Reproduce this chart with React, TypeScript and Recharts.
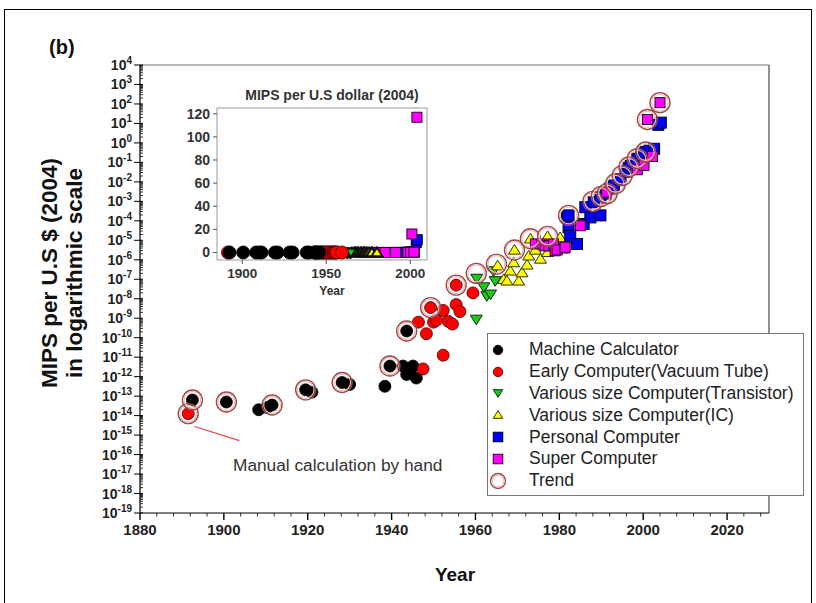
import { Legend, ReferenceLine, Scatter, ScatterChart, XAxis, YAxis } from "recharts";

type P = [number, number]; // [year, MIPS per US$ (2004)]

const machineCalculator: P[] = [
  [1892.5, 6.3e-14], [1900.6, 5e-14], [1908.3, 2e-14], [1911.5, 3.5e-14], [1910.3, 2.6e-14],
  [1919.5, 2.1e-13], [1921, 1.6e-13], [1928.2, 5e-13], [1930, 4e-13], [1938.4, 3.2e-13],
  [1939.6, 3.5e-12], [1942.7, 3.5e-12], [1943.6, 1.3e-12], [1944.4, 1.6e-12], [1945.1, 3.5e-12],
  [1945.9, 8.5e-13], [1943.6, 2.2e-10],
];
const earlyComputer: P[] = [
  [1891.5, 1.26e-14], [1946.4, 6.3e-10], [1947.5, 2.5e-12], [1948.3, 1.6e-10], [1949.3, 3.5e-9],
  [1950, 6.3e-10], [1950.7, 8e-10], [1952.3, 2.5e-9], [1952.3, 1.26e-11], [1953.5, 7e-10],
  [1954.5, 5e-10], [1955.4, 5e-9], [1955.4, 5e-8], [1956.3, 2.2e-9], [1959.4, 2e-8],
];
const transistor: P[] = [
  [1960.2, 8.7e-10], [1960.3, 1.1e-7], [1962, 4e-8], [1962.7, 1.4e-8], [1963.6, 1.7e-8],
  [1964.3, 2.7e-7], [1964.7, 8.3e-8],
];
const ic: P[] = [
  [1965.3, 5e-7], [1966.7, 1e-7], [1967.5, 8.3e-8], [1968.3, 2.7e-7], [1969.1, 7.2e-7],
  [1969.3, 3.2e-6], [1970.3, 8.3e-8], [1971.1, 2.2e-7], [1972.3, 5.5e-7], [1972.7, 1.6e-6],
  [1973.1, 1.2e-5], [1974.3, 3.2e-6], [1975.5, 1.1e-6], [1977.2, 1.6e-5], [1977.2, 2.4e-6],
  [1980.2, 1.4e-5],
];
const personal: P[] = [
  [1981.8, 1.6e-4], [1982.2, 1.9e-4], [1982.2, 4.7e-5], [1982.6, 1.7e-5], [1984.2, 6.5e-6],
  [1985.8, 6.9e-5], [1986.2, 5e-4], [1987.4, 1.5e-4], [1988.2, 8.9e-4], [1989.8, 1.6e-3],
  [1989.8, 1.9e-4], [1991, 2.5e-3], [1992, 4.5e-3], [1993, 6.5e-3], [1994.6, 1.4e-2],
  [1995.8, 3.2e-2], [1996.5, 5e-2], [1997, 7e-2], [1998.6, 0.155], [1999.5, 0.22],
  [2000.2, 0.34], [2001.5, 0.4], [2002.6, 0.5], [2003.6, 8.5], [2004.2, 11],
];
const superComputer: P[] = [
  [1974.3, 6.5e-6], [1975.9, 6.5e-6], [1976.6, 5.2e-6], [1977.5, 5.2e-6], [1978.6, 6.5e-6],
  [1979, 2.9e-6], [1979.5, 3.2e-6], [1981.2, 4e-6], [1981.4, 4.4e-6], [1985, 5.6e-5],
  [1991.3, 3e-3], [1998.6, 4.2e-2], [2000.2, 7e-2], [2002.2, 0.2], [2001, 16], [2004, 117],
];
const trend: P[] = [
  [1891.5, 1.26e-14], [1892.5, 6.3e-14], [1900.6, 5e-14], [1911.5, 3.5e-14], [1919.5, 2.1e-13],
  [1928.2, 5e-13], [1939.6, 3.5e-12], [1943.6, 2.2e-10], [1949.3, 3.5e-9], [1955.4, 5e-8],
  [1960.2, 2e-7], [1965, 6e-7], [1969.3, 3.2e-6], [1973.1, 1.2e-5], [1977.2, 1.6e-5],
  [1982.2, 1.9e-4], [1988, 1e-3], [1990, 1.8e-3], [1991.4, 2.5e-3], [1993.4, 8e-3],
  [1995, 2.1e-2], [1996.6, 5.8e-2], [1998.6, 0.155], [2000.6, 0.34], [2001, 16], [2004, 117],
];

const yMajorExp = [4, 3, 2, 1, 0, -1, -2, -3, -4, -5, -6, -7, -8, -9, -10, -11, -12, -13, -14, -15, -16, -17, -18, -19];
const insetYTicks = [0, 20, 40, 60, 80, 100, 120];
const insetXTicks = [1900, 1950, 2000];

// minor tick positions
const yTicks: number[] = [];
yMajorExp.forEach((e) => {
  yTicks.push(10 ** e);
  if (e > -19) for (let m = 2; m <= 9; m++) yTicks.push(m * 10 ** (e - 1));
});
const xTicks: number[] = [];
for (let y = 1880; y <= 2028; y += 4) xTicks.push(y);

type Kind = "circle" | "down" | "up" | "square" | "ring";
type Series = { name: string; data: P[]; kind: Kind; fill: string; stroke: string; size: number; inset: boolean };

const SERIES: Series[] = [
  { name: "Machine Calculator", data: machineCalculator, kind: "circle", fill: "#000000", stroke: "#000000", size: 12, inset: true },
  { name: "Early Computer(Vacuum Tube)", data: earlyComputer, kind: "circle", fill: "#ff0000", stroke: "#3a0000", size: 12, inset: true },
  { name: "Various size Computer(Transistor)", data: transistor, kind: "down", fill: "#1ec81e", stroke: "#063006", size: 12, inset: true },
  { name: "Various size Computer(IC)", data: ic, kind: "up", fill: "#ffff00", stroke: "#333300", size: 12, inset: true },
  { name: "Personal Computer", data: personal, kind: "square", fill: "#0000ff", stroke: "#000022", size: 11, inset: true },
  { name: "Super Computer", data: superComputer, kind: "square", fill: "#ff00ff", stroke: "#300030", size: 10, inset: true },
  { name: "Trend", data: trend, kind: "ring", fill: "none", stroke: "#a04848", size: 20, inset: false },
];

// inset draw order: PCs first, then super computers over them, calculators on top
const INSET_ORDER = [
  "Personal Computer",
  "Super Computer",
  "Various size Computer(IC)",
  "Various size Computer(Transistor)",
  "Early Computer(Vacuum Tube)",
  "Machine Calculator",
];

const rows = (pts: P[]) => pts.map(([year, mips]) => ({ year, mips }));

const FONT = "'Liberation Sans', Arial, sans-serif";

function Marker({ cx, cy, kind, fill, stroke, size, sw = 1 }: any) {
  if (cx == null || cy == null) return null;
  const h = size / 2;
  if (kind === "circle") return <circle cx={cx} cy={cy} r={h} fill={fill} stroke={stroke} strokeWidth={0.8 * sw} />;
  if (kind === "square")
    return <rect x={cx - h} y={cy - h} width={size} height={size} fill={fill} stroke={stroke} strokeWidth={sw} />;
  if (kind === "down")
    return (
      <polygon
        points={`${cx - h},${cy - h * 0.7} ${cx + h},${cy - h * 0.7} ${cx},${cy + h * 0.9}`}
        fill={fill}
        stroke={stroke}
        strokeWidth={sw}
      />
    );
  if (kind === "up")
    return (
      <polygon
        points={`${cx - h},${cy + h * 0.7} ${cx + h},${cy + h * 0.7} ${cx},${cy - h * 0.9}`}
        fill={fill}
        stroke={stroke}
        strokeWidth={sw}
      />
    );
  return (
    <g>
      <circle cx={cx} cy={cy} r={h} fill="none" stroke={stroke} strokeWidth={1.4} />
      <circle cx={cx} cy={cy} r={h - 1.6} fill="none" stroke="#ecbcbc" strokeWidth={1.2} />
    </g>
  );
}

function YTick({ x, y, payload }: any) {
  const v = payload.value as number;
  const lg = Math.log10(v);
  const e = Math.round(lg);
  const major = Math.abs(lg - e) < 1e-6;
  if (!major) return <line x1={x} x2={x + 3} y1={y} y2={y} stroke="#000" strokeWidth={0.8} />;
  return (
    <g>
      <line x1={x - 6} x2={x + 3} y1={y} y2={y} stroke="#000" strokeWidth={1} />
      <text x={x - 8} y={y + 5} textAnchor="end" fontFamily={FONT} fontWeight="bold" fontSize={14} fill="#222">
        <tspan>10</tspan>
        <tspan dy={-6} fontSize={10}>
          {e}
        </tspan>
      </text>
    </g>
  );
}

function XTick({ x, y, payload }: any) {
  const v = payload.value as number;
  const major = v % 20 === 0;
  return (
    <g>
      <line x1={x} x2={x} y1={y} y2={y + (major ? 7 : 3.5)} stroke="#000" strokeWidth={major ? 1.4 : 0.8} />
      {major && (
        <text x={x} y={y + 22} textAnchor="middle" fontFamily={FONT} fontWeight="bold" fontSize={15} fill="#222">
          {v}
        </text>
      )}
    </g>
  );
}

function InsetYTick({ x, y, payload }: any) {
  return (
    <g>
      <line x1={x - 4} x2={x} y1={y} y2={y} stroke="#555" />
      <text x={x - 7} y={y + 5} textAnchor="end" fontFamily={FONT} fontWeight="bold" fontSize={14} fill="#333">
        {payload.value}
      </text>
    </g>
  );
}

function InsetXTick({ x, y, payload }: any) {
  return (
    <g>
      <line x1={x} x2={x} y1={y} y2={y + 4} stroke="#555" />
      <text x={x} y={y + 18} textAnchor="middle" fontFamily={FONT} fontWeight="bold" fontSize={13.5} fill="#333">
        {payload.value}
      </text>
    </g>
  );
}

function LegendBox() {
  return (
    <div
      style={{
        width: 317,
        height: 163,
        boxSizing: "border-box",
        border: "1px solid #777",
        background: "#fff",
        paddingTop: 5,
        fontFamily: FONT,
        fontSize: 17.5,
        color: "#222",
      }}
    >
      {SERIES.map((s) => (
        <div key={s.name} style={{ height: 21.8, display: "flex", alignItems: "center" }}>
          <svg width={20} height={20} style={{ marginLeft: 0, marginRight: 21, flex: "none" }}>
            <Marker cx={10} cy={10} kind={s.kind} fill={s.fill} stroke={s.stroke} size={s.kind === "ring" ? 15 : 9.5} />
          </svg>
          <span style={{ whiteSpace: "nowrap" }}>{s.name}</span>
        </div>
      ))}
    </div>
  );
}

export default function App() {
  const insetSeries = INSET_ORDER.map((n) => SERIES.find((s) => s.name === n)!).filter((s) => s.inset);
  return (
    <div style={{ position: "fixed", left: 0, top: 0, width: 816, height: 603, background: "#fff", overflow: "hidden" }}>
      <div style={{ position: "absolute", left: 4, top: 9, width: 806, height: 620, border: "1px solid #000" }} />
      <div style={{ position: "absolute", left: 0, top: 0 }}>
        <ScatterChart width={816} height={603} margin={{ top: 65, right: 47, left: 80, bottom: 50 }}>
          <XAxis
            type="number"
            dataKey="year"
            domain={[1880, 2030]}
            ticks={xTicks}
            interval={0}
            tickSize={0}
            tickMargin={0}
            tickLine={false}
            height={40}
            tick={<XTick />}
            axisLine={{ stroke: "#000", strokeWidth: 1.2 }}
            allowDataOverflow
          />
          <YAxis
            type="number"
            dataKey="mips"
            scale="log"
            domain={[1e-19, 1e4]}
            ticks={yTicks}
            interval={0}
            tickSize={0}
            tickMargin={0}
            tickLine={false}
            width={60}
            tick={<YTick />}
            axisLine={{ stroke: "#000", strokeWidth: 1.2 }}
            allowDataOverflow
          />
          <ReferenceLine y={1e4} stroke="#777" strokeWidth={1.2} />
          <ReferenceLine x={2030} stroke="#444" strokeWidth={1.2} />
          <ReferenceLine
            segment={[
              { x: 1893, y: 2.75e-15 },
              { x: 1903.7, y: 5.2e-16 },
            ]}
            stroke="#e44"
            strokeWidth={1.2}
          />
          {SERIES.map((s) => (
            <Scatter
              key={s.name}
              name={s.name}
              data={rows(s.data)}
              isAnimationActive={false}
              shape={(p: any) => <Marker cx={p.cx} cy={p.cy} kind={s.kind} fill={s.fill} stroke={s.stroke} size={s.size} />}
            />
          ))}
          <Legend
            layout="vertical"
            align="center"
            verticalAlign="middle"
            wrapperStyle={{ left: 487, top: 333, width: 317, height: 163 }}
            content={() => <LegendBox />}
          />
        </ScatterChart>
      </div>

      <div style={{ position: "absolute", left: 160, top: 78 }}>
        <ScatterChart width={290} height={230} margin={{ top: 30, right: 23, left: 17, bottom: 4 }}>
          <XAxis
            type="number"
            dataKey="year"
            domain={[1885, 2010]}
            ticks={insetXTicks}
            interval={0}
            tickSize={0}
            tickMargin={0}
            tickLine={false}
            height={44}
            tick={<InsetXTick />}
            axisLine={{ stroke: "#999" }}
            allowDataOverflow
          />
          <YAxis
            type="number"
            dataKey="mips"
            domain={[-6.5, 125]}
            ticks={insetYTicks}
            interval={0}
            tickSize={0}
            tickMargin={0}
            tickLine={false}
            width={40}
            tick={<InsetYTick />}
            axisLine={{ stroke: "#999" }}
            allowDataOverflow
          />
          <ReferenceLine y={125} stroke="#999" />
          <ReferenceLine x={2010} stroke="#999" />
          {insetSeries.map((s) => (
            <Scatter
              key={s.name}
              name={s.name}
              data={rows(s.data)}
              isAnimationActive={false}
              shape={(p: any) => (
                <Marker
                  cx={p.cx}
                  cy={p.cy}
                  kind={s.kind}
                  fill={s.fill}
                  stroke={s.kind === "up" || s.kind === "down" ? "#111" : s.stroke}
                  sw={s.kind === "up" || s.kind === "down" ? 2 : 1}
                  size={s.kind === "circle" ? 13 : s.kind === "square" ? 10 : 11}
                />
              )}
            />
          ))}
        </ScatterChart>
      </div>

      <div
        style={{
          position: "absolute",
          left: 182,
          top: 87,
          width: 300,
          textAlign: "center",
          fontFamily: FONT,
          fontWeight: "bold",
          fontSize: 14,
          color: "#333",
        }}
      >
        MIPS per U.S dollar (2004)
      </div>
      <div
        style={{
          position: "absolute",
          left: 272,
          top: 284,
          width: 120,
          textAlign: "center",
          fontFamily: FONT,
          fontWeight: "bold",
          fontSize: 12,
          lineHeight: "14px",
          color: "#333",
        }}
      >
        Year
      </div>

      <div style={{ position: "absolute", left: 49, top: 36, fontFamily: FONT, fontWeight: "bold", fontSize: 20, color: "#111" }}>
        (b)
      </div>
      <div style={{ position: "absolute", left: 62, top: 273, width: 0, height: 0 }}>
        <div
          style={{
            position: "absolute",
            transform: "translate(-50%, -50%) rotate(-90deg)",
            whiteSpace: "nowrap",
            textAlign: "center",
            fontFamily: FONT,
            fontWeight: "bold",
            fontSize: 22.5,
            lineHeight: "25px",
            color: "#111",
          }}
        >
          MIPS per U.S $ (2004)
          <br />
          in logarithmic scale
        </div>
      </div>
      <div
        style={{
          position: "absolute",
          left: 395,
          top: 564,
          width: 120,
          textAlign: "center",
          fontFamily: FONT,
          fontWeight: "bold",
          fontSize: 19,
          color: "#111",
        }}
      >
        Year
      </div>
      <div style={{ position: "absolute", left: 233, top: 455, fontFamily: FONT, fontSize: 17.3, color: "#333" }}>
        Manual calculation by hand
      </div>
    </div>
  );
}
